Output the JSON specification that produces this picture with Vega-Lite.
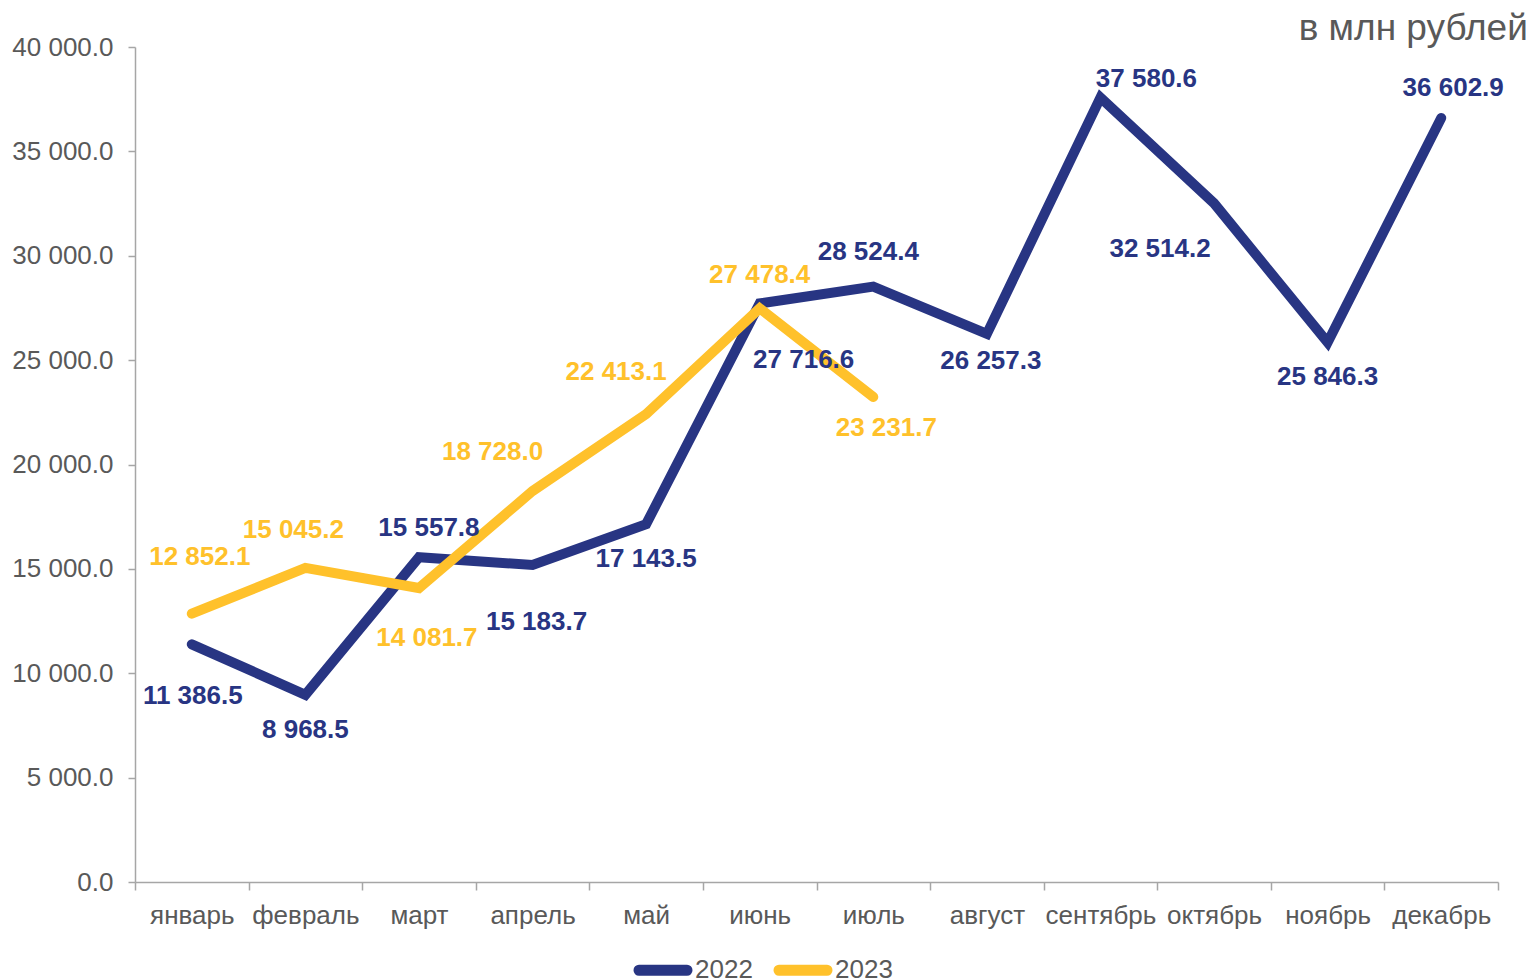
{
  "$schema": "https://vega.github.io/schema/vega-lite/v6.json",
  "autosize": "none",
  "width": 1363,
  "height": 835,
  "padding": {"left": 135, "top": 47, "right": 34, "bottom": 98},
  "background": "white",
  "title": {
    "text": "в млн рублей",
    "anchor": "end",
    "dx": 24,
    "offset": -14,
    "font": "Liberation Sans",
    "fontSize": 37,
    "fontWeight": "normal",
    "color": "#595959"
  },
  "data": {
    "values": [
      {"month": "январь", "year": "2022", "value": 11386.5},
      {"month": "февраль", "year": "2022", "value": 8968.5},
      {"month": "март", "year": "2022", "value": 15557.8},
      {"month": "апрель", "year": "2022", "value": 15183.7},
      {"month": "май", "year": "2022", "value": 17143.5},
      {"month": "июнь", "year": "2022", "value": 27716.6},
      {"month": "июль", "year": "2022", "value": 28524.4},
      {"month": "август", "year": "2022", "value": 26257.3},
      {"month": "сентябрь", "year": "2022", "value": 37580.6},
      {"month": "октябрь", "year": "2022", "value": 32514.2},
      {"month": "ноябрь", "year": "2022", "value": 25846.3},
      {"month": "декабрь", "year": "2022", "value": 36602.9},
      {"month": "январь", "year": "2023", "value": 12852.1},
      {"month": "февраль", "year": "2023", "value": 15045.2},
      {"month": "март", "year": "2023", "value": 14081.7},
      {"month": "апрель", "year": "2023", "value": 18728.0},
      {"month": "май", "year": "2023", "value": 22413.1},
      {"month": "июнь", "year": "2023", "value": 27478.4},
      {"month": "июль", "year": "2023", "value": 23231.7}
    ]
  },
  "encoding": {
    "x": {
      "field": "month",
      "type": "nominal",
      "sort": ["январь", "февраль", "март", "апрель", "май", "июнь", "июль", "август", "сентябрь", "октябрь", "ноябрь", "декабрь"],
      "scale": {"type": "band", "paddingInner": 0, "paddingOuter": 0},
      "axis": {"title": null, "labelAngle": 0, "tickBand": "extent", "tickSize": 8, "labelPadding": 12}
    },
    "y": {
      "field": "value",
      "type": "quantitative",
      "scale": {"domain": [0, 40000], "nice": false, "zero": true},
      "axis": {"title": null, "values": [0, 5000, 10000, 15000, 20000, 25000, 30000, 35000, 40000], "format": ",.1f", "tickSize": 7, "labelPadding": 15}
    }
  },
  "layer": [
    {
      "mark": {"type": "line", "strokeWidth": 10, "strokeCap": "round", "strokeJoin": "miter"},
      "encoding": {
        "color": {
          "field": "year",
          "type": "nominal",
          "scale": {"domain": ["2022", "2023"], "range": ["#283583", "#FFC12B"]},
          "legend": {
            "title": null,
            "orient": "none",
            "direction": "horizontal",
            "legendX": 498,
            "legendY": 893,
            "symbolType": "M-0.96,-0.02 H0.96 A0.02,0.02 0 0 1 0.96,0.02 H-0.96 A0.02,0.02 0 0 1 -0.96,-0.02 Z",
            "symbolSize": 2500,
            "symbolStrokeWidth": 10,
            "labelFont": "Liberation Sans",
            "labelFontSize": 26,
            "labelColor": "#595959",
            "labelOffset": 2,
            "columnPadding": 5
          }
        }
      }
    },
    {"transform": [{"filter": "datum.year == '2022' && datum.month == 'январь'"}], "mark": {"type": "text", "dx": 1, "dy": 52, "fill": "#283583", "font": "Liberation Sans", "fontSize": 26, "fontWeight": "bold"}, "encoding": {"text": {"field": "value", "type": "quantitative", "format": ",.1f"}}},
    {"transform": [{"filter": "datum.year == '2022' && datum.month == 'февраль'"}], "mark": {"type": "text", "dx": 0, "dy": 35, "fill": "#283583", "font": "Liberation Sans", "fontSize": 26, "fontWeight": "bold"}, "encoding": {"text": {"field": "value", "type": "quantitative", "format": ",.1f"}}},
    {"transform": [{"filter": "datum.year == '2022' && datum.month == 'март'"}], "mark": {"type": "text", "dx": 10, "dy": -29, "fill": "#283583", "font": "Liberation Sans", "fontSize": 26, "fontWeight": "bold"}, "encoding": {"text": {"field": "value", "type": "quantitative", "format": ",.1f"}}},
    {"transform": [{"filter": "datum.year == '2022' && datum.month == 'апрель'"}], "mark": {"type": "text", "dx": 4, "dy": 57, "fill": "#283583", "font": "Liberation Sans", "fontSize": 26, "fontWeight": "bold"}, "encoding": {"text": {"field": "value", "type": "quantitative", "format": ",.1f"}}},
    {"transform": [{"filter": "datum.year == '2022' && datum.month == 'май'"}], "mark": {"type": "text", "dx": 0, "dy": 35, "fill": "#283583", "font": "Liberation Sans", "fontSize": 26, "fontWeight": "bold"}, "encoding": {"text": {"field": "value", "type": "quantitative", "format": ",.1f"}}},
    {"transform": [{"filter": "datum.year == '2022' && datum.month == 'июнь'"}], "mark": {"type": "text", "dx": 44, "dy": 57, "fill": "#283583", "font": "Liberation Sans", "fontSize": 26, "fontWeight": "bold"}, "encoding": {"text": {"field": "value", "type": "quantitative", "format": ",.1f"}}},
    {"transform": [{"filter": "datum.year == '2022' && datum.month == 'июль'"}], "mark": {"type": "text", "dx": -5, "dy": -35, "fill": "#283583", "font": "Liberation Sans", "fontSize": 26, "fontWeight": "bold"}, "encoding": {"text": {"field": "value", "type": "quantitative", "format": ",.1f"}}},
    {"transform": [{"filter": "datum.year == '2022' && datum.month == 'август'"}], "mark": {"type": "text", "dx": 4, "dy": 27, "fill": "#283583", "font": "Liberation Sans", "fontSize": 26, "fontWeight": "bold"}, "encoding": {"text": {"field": "value", "type": "quantitative", "format": ",.1f"}}},
    {"transform": [{"filter": "datum.year == '2022' && datum.month == 'сентябрь'"}], "mark": {"type": "text", "dx": 46, "dy": -19, "fill": "#283583", "font": "Liberation Sans", "fontSize": 26, "fontWeight": "bold"}, "encoding": {"text": {"field": "value", "type": "quantitative", "format": ",.1f"}}},
    {"transform": [{"filter": "datum.year == '2022' && datum.month == 'октябрь'"}], "mark": {"type": "text", "dx": -54, "dy": 46, "fill": "#283583", "font": "Liberation Sans", "fontSize": 26, "fontWeight": "bold"}, "encoding": {"text": {"field": "value", "type": "quantitative", "format": ",.1f"}}},
    {"transform": [{"filter": "datum.year == '2022' && datum.month == 'ноябрь'"}], "mark": {"type": "text", "dx": 0, "dy": 35, "fill": "#283583", "font": "Liberation Sans", "fontSize": 26, "fontWeight": "bold"}, "encoding": {"text": {"field": "value", "type": "quantitative", "format": ",.1f"}}},
    {"transform": [{"filter": "datum.year == '2022' && datum.month == 'декабрь'"}], "mark": {"type": "text", "dx": 12, "dy": -30, "fill": "#283583", "font": "Liberation Sans", "fontSize": 26, "fontWeight": "bold"}, "encoding": {"text": {"field": "value", "type": "quantitative", "format": ",.1f"}}},
    {"transform": [{"filter": "datum.year == '2023' && datum.month == 'январь'"}], "mark": {"type": "text", "dx": 8, "dy": -57, "fill": "#FFC12B", "font": "Liberation Sans", "fontSize": 26, "fontWeight": "bold"}, "encoding": {"text": {"field": "value", "type": "quantitative", "format": ",.1f"}}},
    {"transform": [{"filter": "datum.year == '2023' && datum.month == 'февраль'"}], "mark": {"type": "text", "dx": -12, "dy": -38, "fill": "#FFC12B", "font": "Liberation Sans", "fontSize": 26, "fontWeight": "bold"}, "encoding": {"text": {"field": "value", "type": "quantitative", "format": ",.1f"}}},
    {"transform": [{"filter": "datum.year == '2023' && datum.month == 'март'"}], "mark": {"type": "text", "dx": 8, "dy": 50, "fill": "#FFC12B", "font": "Liberation Sans", "fontSize": 26, "fontWeight": "bold"}, "encoding": {"text": {"field": "value", "type": "quantitative", "format": ",.1f"}}},
    {"transform": [{"filter": "datum.year == '2023' && datum.month == 'апрель'"}], "mark": {"type": "text", "dx": -40, "dy": -39, "fill": "#FFC12B", "font": "Liberation Sans", "fontSize": 26, "fontWeight": "bold"}, "encoding": {"text": {"field": "value", "type": "quantitative", "format": ",.1f"}}},
    {"transform": [{"filter": "datum.year == '2023' && datum.month == 'май'"}], "mark": {"type": "text", "dx": -30, "dy": -42, "fill": "#FFC12B", "font": "Liberation Sans", "fontSize": 26, "fontWeight": "bold"}, "encoding": {"text": {"field": "value", "type": "quantitative", "format": ",.1f"}}},
    {"transform": [{"filter": "datum.year == '2023' && datum.month == 'июнь'"}], "mark": {"type": "text", "dx": 0, "dy": -33, "fill": "#FFC12B", "font": "Liberation Sans", "fontSize": 26, "fontWeight": "bold"}, "encoding": {"text": {"field": "value", "type": "quantitative", "format": ",.1f"}}},
    {"transform": [{"filter": "datum.year == '2023' && datum.month == 'июль'"}], "mark": {"type": "text", "dx": 13, "dy": 31, "fill": "#FFC12B", "font": "Liberation Sans", "fontSize": 26, "fontWeight": "bold"}, "encoding": {"text": {"field": "value", "type": "quantitative", "format": ",.1f"}}}
  ],
  "config": {
    "locale": {"number": {"decimal": ".", "thousands": " ", "grouping": [3], "currency": ["", ""]}},
    "view": {"stroke": null},
    "axis": {
      "grid": false,
      "labelFont": "Liberation Sans",
      "labelFontSize": 26,
      "labelColor": "#595959",
      "domainColor": "#A6A6A6",
      "tickColor": "#A6A6A6",
      "domainWidth": 1.5,
      "tickWidth": 1.5
    }
  }
}
